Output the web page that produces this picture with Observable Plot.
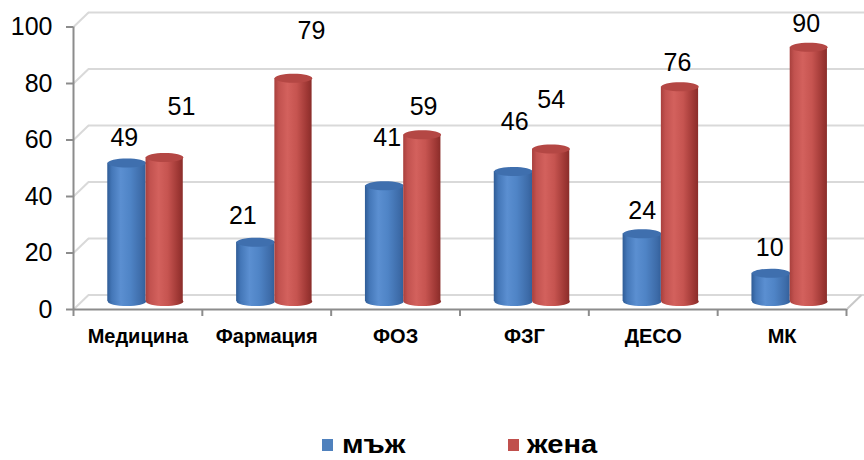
<!DOCTYPE html>
<html>
<head>
<meta charset="utf-8">
<script src="https://cdn.jsdelivr.net/npm/d3@7"></script>
<script src="https://cdn.jsdelivr.net/npm/@observablehq/plot@0.6"></script>
<style>
  body { margin: 0; background: #fff; font-family: "Liberation Sans", Arial, sans-serif; }
  #wrap { position: relative; width: 864px; height: 460px; }
  .sw { position: absolute; width: 11px; height: 12px; top: 439px; }
  .lt { position: absolute; top: 434px; height: 20px; font: bold 26px "Liberation Sans", Arial, sans-serif; line-height: 20px; color: #000; white-space: nowrap; transform: scaleX(1.12); transform-origin: left center; }
</style>
</head>
<body>
<div id="wrap"></div>
<script>
// ---- data ----
const categories = ["Медицина", "Фармация", "ФОЗ", "ФЗГ", "ДЕСО", "МК"];
const seriesNames = ["мъж", "жена"];
const maleValues = [49, 21, 41, 46, 24, 10];
const femaleValues = [51, 79, 59, 54, 76, 90];
const yTicks = [0, 20, 40, 60, 80, 100];
// label placement (value units above bar top / category-units shift)
const maleLabelLift = [8.7, 9.4, 17, 17.7, 8.2, 8.8];
const femaleLabelLift = [17.7, 16.9, 9.7, 17.2, 8.6, 8.4];
const maleLabelShift = [-0.02, -0.1, 0.02, 0.01, 0, -0.01];
const femaleLabelShift = [0.13, 0.14, 0.01, 0, -0.02, -0.02];

const colors = { "мъж": "#4F81BD", "жена": "#C0504D" };

// ---- layout constants ----
const depthX = 0.1165, depthY = 5.13;   // 3D depth of the wall (scale units)
const slots = { "мъж": [0.266, 0.563], "жена": [0.563, 0.852] };

const rows = categories.flatMap((c, i) => [
  { cat: c, i, series: seriesNames[0], value: maleValues[i], lift: maleLabelLift[i], shift: maleLabelShift[i] },
  { cat: c, i, series: seriesNames[1], value: femaleValues[i], lift: femaleLabelLift[i], shift: femaleLabelShift[i] }
]).map(d => ({ ...d, x1: d.i + slots[d.series][0], x2: d.i + slots[d.series][1] }));

const ellipse = (rx, ry) => ({
  draw(ctx) {
    const k = 0.5523;
    ctx.moveTo(rx, 0);
    ctx.bezierCurveTo(rx, ry * k, rx * k, ry, 0, ry);
    ctx.bezierCurveTo(-rx * k, ry, -rx, ry * k, -rx, 0);
    ctx.bezierCurveTo(-rx, -ry * k, -rx * k, -ry, 0, -ry);
    ctx.bezierCurveTo(rx * k, -ry, rx, -ry * k, rx, 0);
    ctx.closePath();
  }
});

function cylinder(series, grad, top, rx) {
  const data = rows.filter(d => d.series === series);
  const cx = d => (d.x1 + d.x2) / 2;
  return [
    Plot.dot(data, { x: cx, y: () => 0, dy: -8, symbol: ellipse(rx, 4.5), fill: grad, stroke: "none" }),
    Plot.rectY(data, { x1: "x1", x2: "x2", y1: () => 0, y2: "value", dy: -8, fill: grad, stroke: "none" }),
    Plot.dot(data, { x: cx, y: "value", dy: -8, symbol: ellipse(rx, 4.5), fill: top, stroke: "none" })
  ];
}

const grid = "#d9d9d9", axisC = "#8c8c8c";

const chart = Plot.plot({
  width: 864,
  height: 360,
  marginLeft: 73,
  marginRight: 18,
  marginTop: 26.5,
  marginBottom: 51,
  style: { fontFamily: "'Liberation Sans', Arial, sans-serif", fontSize: "25px", color: "#000", background: "#fff", overflow: "visible" },
  x: { type: "linear", domain: [0, 6] },
  y: { domain: [0, 100] },
  marks: [
    // back wall gridlines
    Plot.ruleY(yTicks, { y: d => d + depthY, x1: depthX, x2: 6 + depthX + 0.03, stroke: grid, strokeWidth: 2 }),
    // side diagonals
    Plot.link(yTicks, { x1: 0, y1: d => d, x2: depthX, y2: d => d + depthY, stroke: grid, strokeWidth: 2 }),
    Plot.link([0], { x1: 6, y1: 0, x2: 6 + depthX, y2: depthY, stroke: "#c8c8c8", strokeWidth: 2 }),
    // front axes
    Plot.ruleY([0], { x1: 0, x2: 6, stroke: axisC, strokeWidth: 2 }),
    Plot.ruleX([0], { y1: 0, y2: 100, stroke: axisC, strokeWidth: 2 }),
    Plot.axisY({ ticks: yTicks, tickSize: 7, tickPadding: 14, stroke: axisC, strokeWidth: 2, fill: "#000", label: null, fontSize: 25 }),
    Plot.axisX({ ticks: d3.range(7), tickSize: 7, tickFormat: () => "", stroke: axisC, strokeWidth: 2, label: null }),
    Plot.axisX({ ticks: d3.range(6).map(i => i + 0.5), tickSize: 0, tickPadding: 19, tickFormat: d => categories[Math.floor(d)], fontSize: 20, fontWeight: "bold", fill: "#000", label: null }),
    // cylinders
    ...cylinder("мъж", "url(#gBlue)", "#3f6fae", 19.1),
    ...cylinder("жена", "url(#gRed)", "#b44744", 18.7),
    // value labels
    Plot.text(rows, { x: d => (d.x1 + d.x2) / 2 + d.shift, y: d => d.value + d.lift, dy: -8, text: d => String(d.value), fontSize: 25, fill: "#000" })
  ]
});

const defs = d3.select(chart).insert("defs", ":first-child");
function grad(id, stops) {
  const g = defs.append("linearGradient").attr("id", id).attr("x1", 0).attr("x2", 1).attr("y1", 0).attr("y2", 0);
  stops.forEach(([o, c]) => g.append("stop").attr("offset", o).attr("stop-color", c));
}
grad("gBlue", [[0, "#2f5c96"], [0.12, "#4477b8"], [0.35, "#5b8fd1"], [0.6, "#4f84c6"], [0.9, "#3d6ba8"], [1, "#33609b"]]);
grad("gRed", [[0, "#a8403d"], [0.12, "#c2524f"], [0.35, "#d3615d"], [0.6, "#c65450"], [0.88, "#9e3734"], [1, "#8a2d2a"]]);

const wrap = document.getElementById("wrap");
wrap.appendChild(chart);

// legend
const legendItems = [
  { name: seriesNames[0], sq: 322, tx: 342 },
  { name: seriesNames[1], sq: 508, tx: 527 }
];
legendItems.forEach(it => {
  const s = document.createElement("div");
  s.className = "sw"; s.style.left = it.sq + "px"; s.style.background = colors[it.name];
  const t = document.createElement("div");
  t.className = "lt"; t.style.left = it.tx + "px"; t.textContent = it.name;
  wrap.appendChild(s); wrap.appendChild(t);
});
</script>
</body>
</html>
